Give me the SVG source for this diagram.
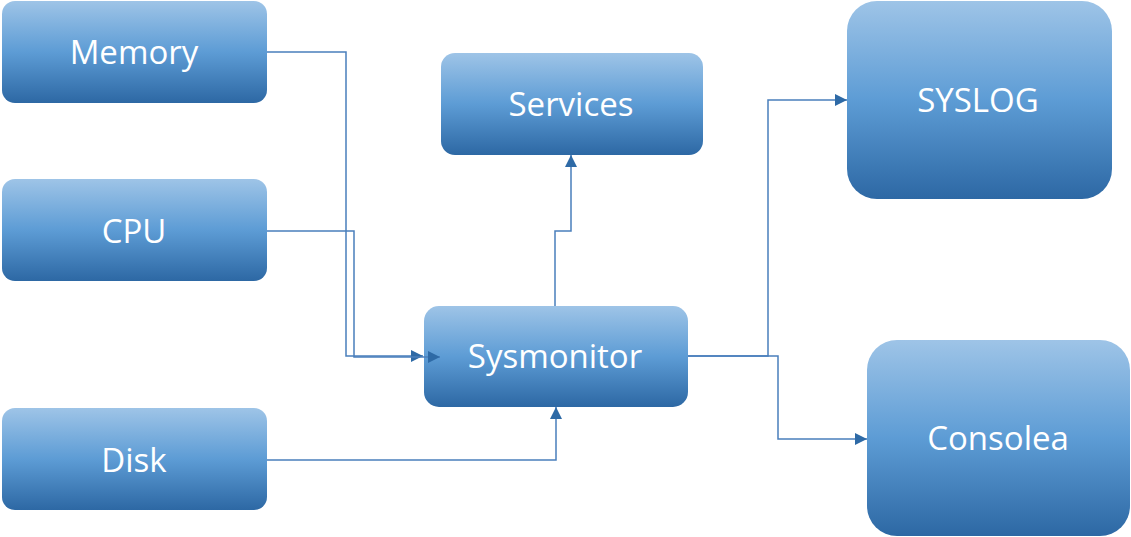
<svg xmlns="http://www.w3.org/2000/svg" width="1131" height="537" viewBox="0 0 1131 537">
<defs>
<linearGradient id="g" x1="0" y1="0" x2="0" y2="1">
<stop offset="0" stop-color="#9ec4e7"/>
<stop offset="0.5" stop-color="#5d9cd5"/>
<stop offset="1" stop-color="#2d68a4"/>
</linearGradient>
<marker id="ah" markerUnits="userSpaceOnUse" markerWidth="12" markerHeight="12" viewBox="0 0 12 12" refX="12" refY="6" orient="auto">
<path d="M0,0 L12,6 L0,12 z" fill="#2e6aa6"/>
</marker>
<style>
.box{fill:url(#g);}
.lbl{font-family:"Open Sans","DejaVu Sans",sans-serif;font-size:33px;fill:#ffffff;text-anchor:middle;}
.conn{fill:none;stroke:#4a7fbc;stroke-width:1.5;marker-end:url(#ah);}
</style>
</defs>
<rect width="1131" height="537" fill="#ffffff"/>
<g id="memory">
<rect class="box" x="2" y="1" width="265" height="102" rx="13"/>
<text class="lbl" x="134" y="64">Memory</text>
</g>
<g id="cpu">
<rect class="box" x="2" y="179" width="265" height="102" rx="13"/>
<text class="lbl" x="134" y="243">CPU</text>
</g>
<g id="disk">
<rect class="box" x="2" y="408" width="265" height="102" rx="13"/>
<text class="lbl" x="134" y="472">Disk</text>
</g>
<g id="services">
<rect class="box" x="441" y="53" width="262" height="102" rx="14"/>
<text class="lbl" x="571" y="116">Services</text>
</g>
<g id="sysmonitor">
<rect class="box" x="424" y="306" width="264" height="101" rx="15"/>
<text class="lbl" x="555" y="368">Sysmonitor</text>
</g>
<g id="syslog">
<rect class="box" x="847" y="1" width="265" height="198" rx="30"/>
<text class="lbl" x="978" y="112">SYSLOG</text>
</g>
<g id="consolea">
<rect class="box" x="867" y="340" width="263" height="196" rx="30"/>
<text class="lbl" x="998" y="450">Consolea</text>
</g>
<g id="connectors">
<path class="conn" d="M267,52 H346 V356 H423"/>
<path class="conn" d="M267,231 H354 V357 H440"/>
<path class="conn" d="M267,460 H556 V407"/>
<path class="conn" d="M555,306 V231 H571 V155"/>
<path class="conn" d="M688,356 H768 V100 H847"/>
<path class="conn" d="M688,356 H778 V439 H867"/>
</g>
</svg>
